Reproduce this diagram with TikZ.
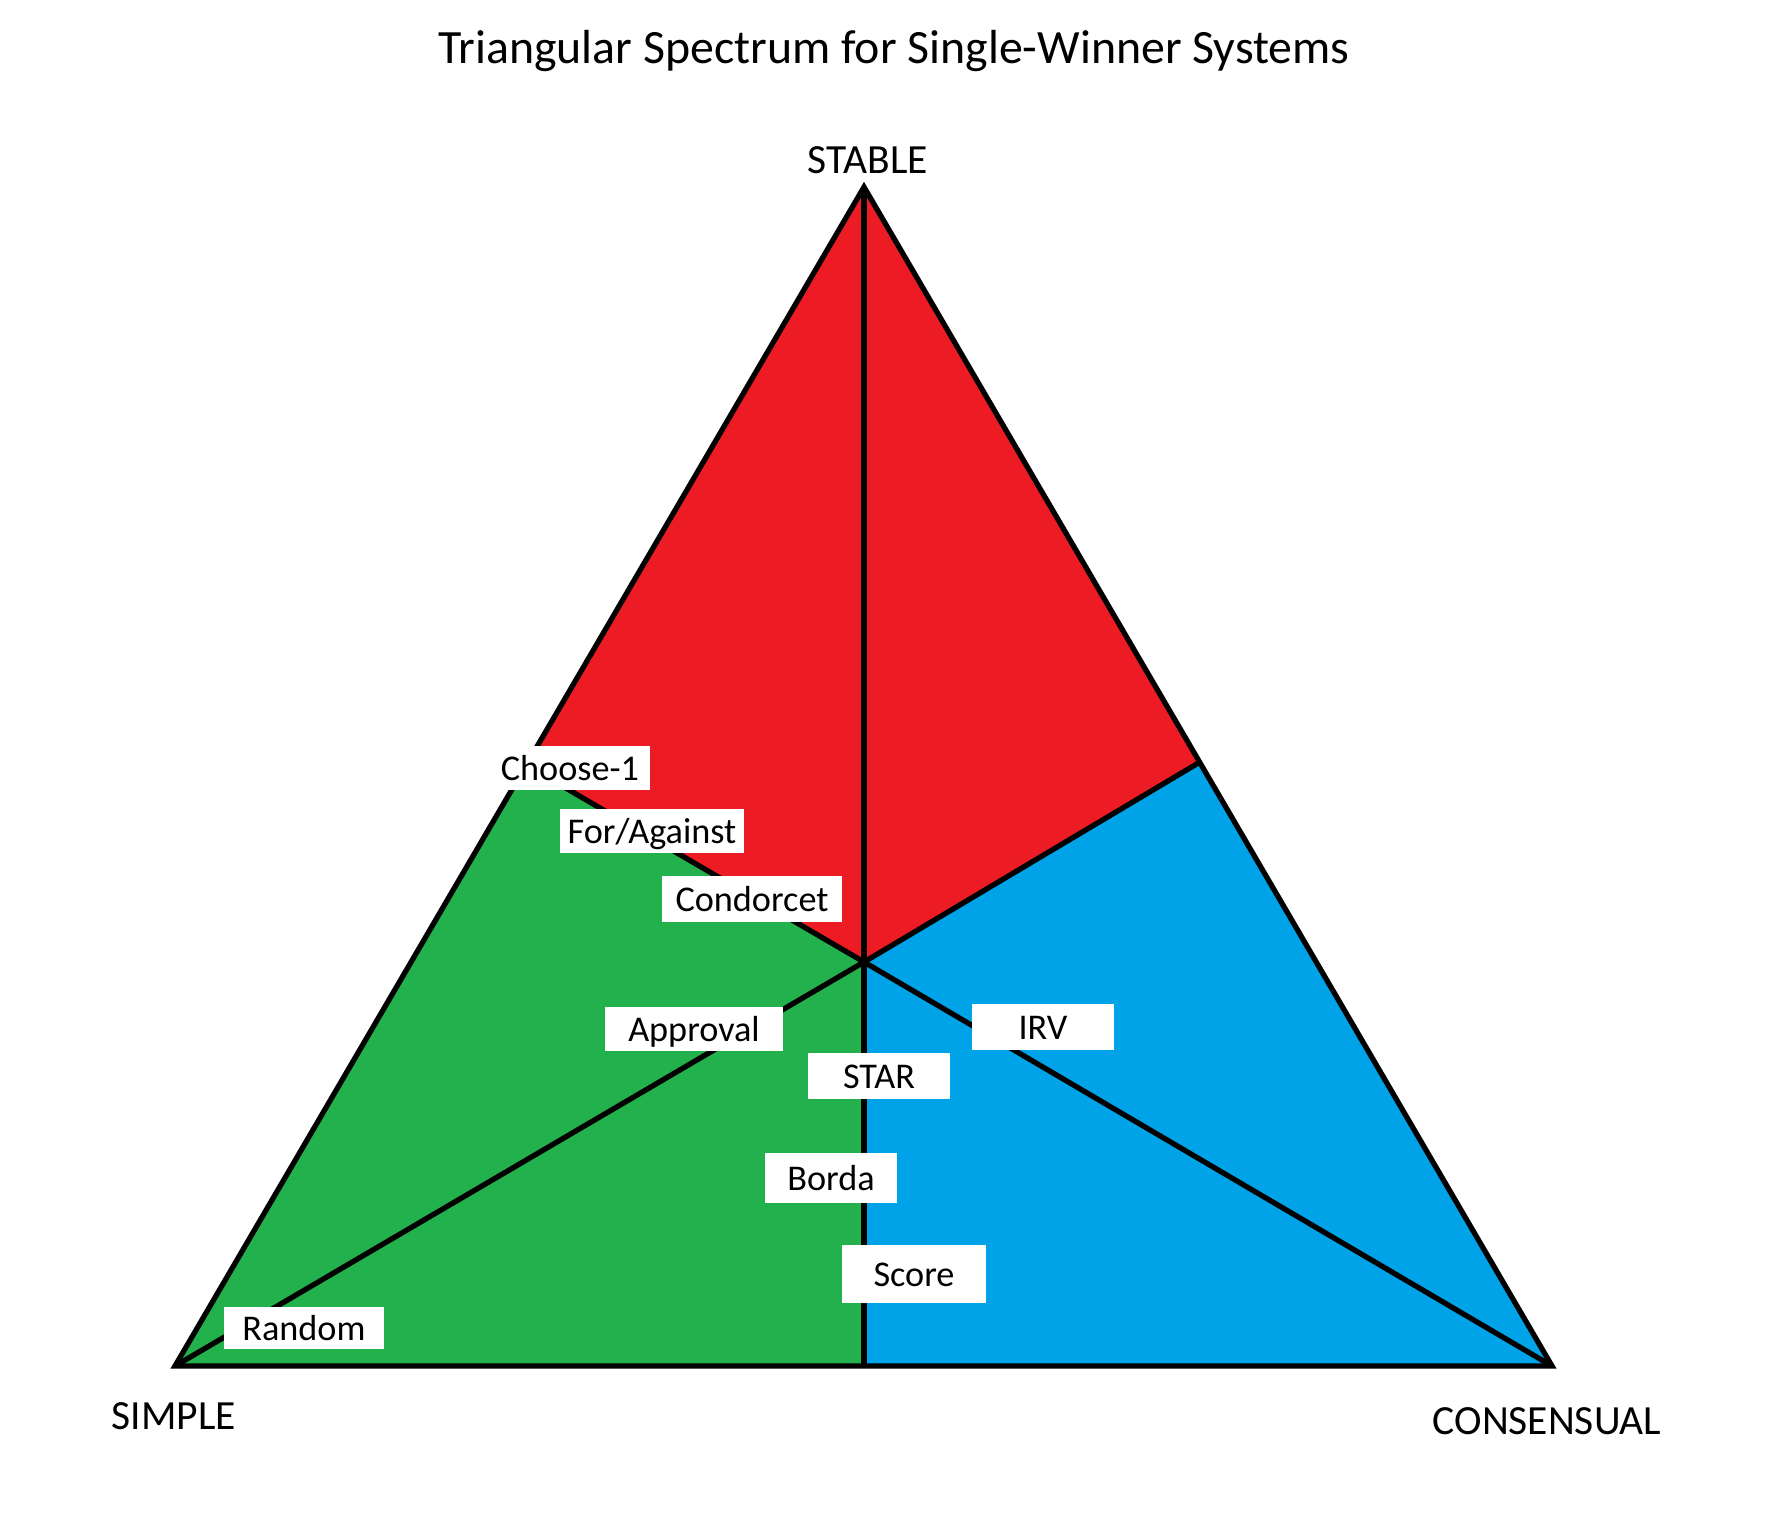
\documentclass[tikz,border=0pt]{standalone}
\usepackage{fontspec}
\setmainfont{Carlito}
\usepackage{xcolor}
\usetikzlibrary{positioning}

\definecolor{stablered}{HTML}{ED1C24}
\definecolor{simplegreen}{HTML}{22B14C}
\definecolor{consblue}{HTML}{00A2E8}

\begin{document}
\begin{tikzpicture}[
x=0.01cm,y=-0.01cm,
edge/.style={line width=1.5pt},
sysbox/.style={fill=white,inner sep=0pt,align=center,font=\fontsize{10.3pt}{12pt}\selectfont,text height=.78em,text depth=.07em},
corner/.style={inner sep=0pt,font=\fontsize{11.8pt}{14pt}\selectfont}
]
\useasboundingbox (0,0) rectangle (1778,1515);
% corners and inner points
\coordinate (top) at (864,187);
\coordinate (sl) at (175,1366);
\coordinate (cr) at (1552,1366);
\coordinate (ctr) at (864,962);
\coordinate (lmid) at (528,766);
\coordinate (rmid) at (1200,762);
\coordinate (bmid) at (864,1366);
% regions
\fill[stablered] (top)--(rmid)--(ctr)--(lmid)--cycle;
\fill[simplegreen] (lmid)--(ctr)--(bmid)--(sl)--cycle;
\fill[consblue] (rmid)--(cr)--(bmid)--(ctr)--cycle;
% lines
\draw[edge] (top)--(sl)--(cr)--cycle;
\draw[edge] (top)--(bmid);
\draw[edge] (ctr)--(sl);
\draw[edge] (ctr)--(cr);
\draw[edge] (ctr)--(lmid);
\draw[edge] (ctr)--(rmid);
% texts
\node[font=\fontsize{13.6pt}{16pt}\selectfont] (title) at (894,51) {Triangular Spectrum for Single-Winner Systems};
\node[corner] (stable) at (868,160) {STABLE};
\node[corner] (simple) at (174,1416) {SIMPLE};
\node[corner] (consensual) at (1547,1421) {CONSENSUAL};
% systems
\node[sysbox,minimum width=1.60cm,minimum height=.43cm] (choose) at (570,768) {Choose-1};
\node[sysbox,minimum width=1.84cm,minimum height=.43cm] (foragainst) at (652,831) {For/Against};
\node[sysbox,minimum width=1.79cm,minimum height=.45cm] (condorcet) at (752,899) {Condorcet};
\node[sysbox,minimum width=1.77cm,minimum height=.44cm] (approval) at (694,1029) {Approval};
\node[sysbox,minimum width=1.42cm,minimum height=.46cm] (irv) at (1043,1027) {IRV};
\node[sysbox,minimum width=1.42cm,minimum height=.46cm] (star) at (879,1076) {STAR};
\node[sysbox,minimum width=1.32cm,minimum height=.49cm] (borda) at (831,1178) {Borda};
\node[sysbox,minimum width=1.43cm,minimum height=.57cm] (score) at (914,1274) {Score};
\node[sysbox,minimum width=1.60cm,minimum height=.42cm] (random) at (304,1328) {Random};
\end{tikzpicture}
\end{document}
